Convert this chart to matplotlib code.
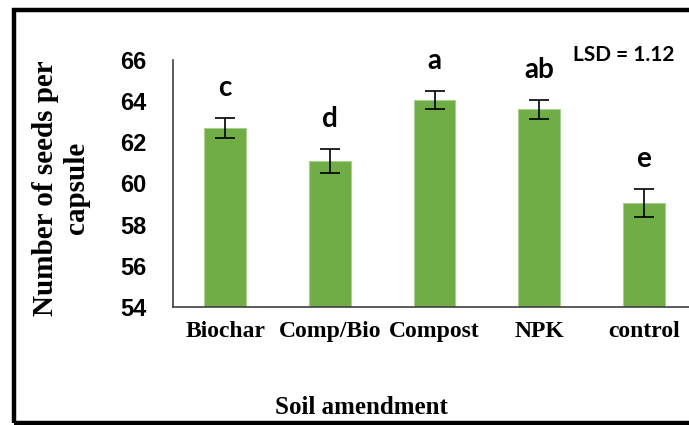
import numpy as np
import matplotlib
matplotlib.use('Agg')
import matplotlib.pyplot as plt
from matplotlib.patches import Rectangle

amendments = ['Biochar', 'Comp/Bio', 'Compost', 'NPK', 'control']
seeds = [62.7, 61.1, 64.05, 63.6, 59.05]
errors = [0.5, 0.6, 0.45, 0.45, 0.7]
letters = ['c', 'd', 'a', 'ab', 'e']
yticks = [54, 56, 58, 60, 62, 64, 66]

W, H = 689, 425
fig = plt.figure(figsize=(W/100, H/100), dpi=100)

# axes extend past the right edge like the cropped original
ax = fig.add_axes([173/W, (H-307)/H, (696-173)/W, (307-60)/H])

x = np.arange(len(amendments))
ax.bar(x, np.array(seeds) - 54, bottom=54, width=0.4, color='#70AD47',
       edgecolor='#a9cf8f', linewidth=0.8, zorder=2)
ax.errorbar(x, seeds, yerr=errors, fmt='none', ecolor='black',
            elinewidth=1.2, capsize=7.5, capthick=1.2, zorder=3)

for xi, v, e, lab in zip(x, seeds, errors, letters):
    ax.annotate(lab, (xi, v + e), xytext=(0, 12), textcoords='offset points',
                ha='center', va='bottom', fontsize=20, fontweight='bold',
                family='Lato')

ax.set_xlim(-0.5, 4.5)
ax.set_ylim(54, 66)
ax.set_yticks(yticks)
ax.set_yticklabels([str(t) for t in yticks], fontsize=17, fontweight='bold',
                   family='Liberation Sans')
ax.set_xticks(x)
ax.set_xticklabels(amendments, fontsize=17, fontweight='bold',
                   family='Liberation Serif')
ax.tick_params(axis='y', length=0, pad=19)
ax.tick_params(axis='x', length=0, pad=10)
ax.spines['top'].set_visible(False)
ax.spines['right'].set_visible(False)
for s in ['left', 'bottom']:
    ax.spines[s].set_color('#404040')
    ax.spines[s].set_linewidth(1.2)

fig.text(61/W, 1 - 188/H, 'Number of seeds per\ncapsule', rotation=90,
         ha='center', va='center', multialignment='center', fontsize=21,
         fontweight='bold', family='Liberation Serif', linespacing=1.15)
fig.text(361/W, 1 - 407/H, 'Soil amendment', ha='center', va='center',
         fontsize=18, fontweight='bold', family='Liberation Serif')
fig.text(573/W, 1 - 55/H, 'LSD = 1.12', ha='left', va='center',
         fontsize=15, fontweight='bold', family='Lato')

# outer frame (right side cut off)
fig.patches.append(Rectangle((14/W, 2/H), 1.0, (H - 12)/H,
                             transform=fig.transFigure, fill=False,
                             edgecolor='black', linewidth=3.2))

plt.savefig('out.png', dpi=100)
